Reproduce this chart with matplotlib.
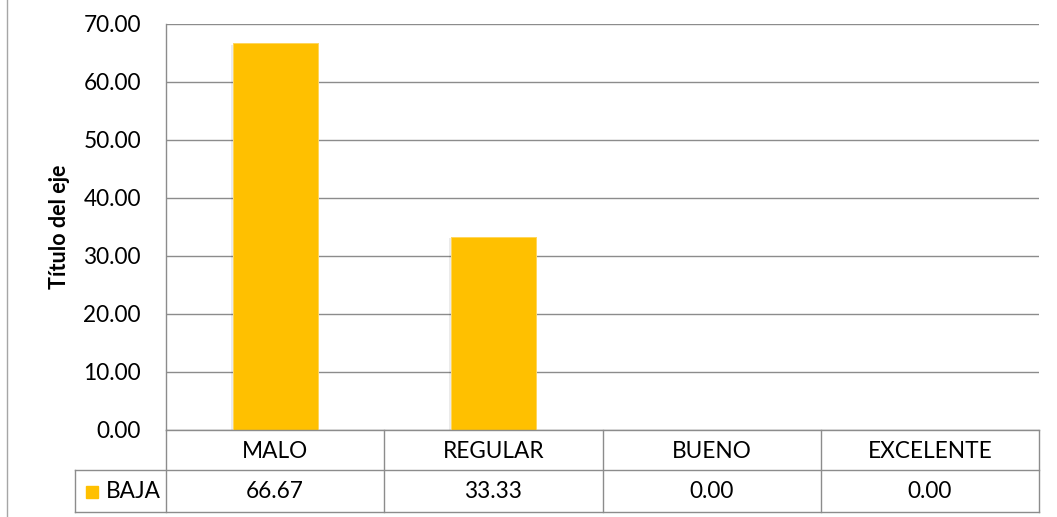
import matplotlib
matplotlib.use("Agg")
import matplotlib.pyplot as plt
import matplotlib.transforms as mtransforms
from matplotlib.lines import Line2D
from matplotlib.patches import Rectangle
import matplotlib.patheffects as pe

categories = ["MALO", "REGULAR", "BUENO", "EXCELENTE"]
series_name = "BAJA"
values = [66.67, 33.33, 0.00, 0.00]
yticks = [0, 10, 20, 30, 40, 50, 60, 70]
y_title = "Título del eje"

W, H = 1057, 517
plt.rcParams['font.family'] = ['Lato', 'DejaVu Sans']
fig = plt.figure(figsize=(W / 100, H / 100), dpi=100)

def fx(px):
    return px / W

def fy(py):
    return 1 - py / H

FS = 16.3
L, R, T, B = 166, 1039, 24, 430
ax = fig.add_axes([fx(L), fy(B), fx(R) - fx(L), fy(T) - fy(B)])

bar_color = "#FFC000"
grid_color = "#8C8C8C"
xs = list(range(len(categories)))
bars = ax.bar(xs, values, width=0.39, color=bar_color, edgecolor="#FFD966", linewidth=0.6, zorder=3)
for b in bars:
    b.set_path_effects([pe.withSimplePatchShadow(offset=(-1, -1), shadow_rgbFace="#000000", alpha=0.08), pe.Normal()])

ax.set_xlim(-0.5, len(categories) - 0.5)
ax.set_ylim(0, 70)
ax.set_yticks(yticks)
ax.set_yticklabels([f"{v:.2f}" for v in yticks], fontsize=FS, color="#000000")
ax.tick_params(axis="y", length=0, pad=18)
ax.set_xticks([])
ax.yaxis.grid(True, color=grid_color, linewidth=1.0, zorder=0)
ax.set_axisbelow(True)
for s in ["top", "right", "bottom"]:
    ax.spines[s].set_visible(False)
ax.spines["left"].set_color(grid_color)
ax.spines["left"].set_linewidth(1.0)

fig.text(fx(59), fy(227), y_title, rotation=90, ha="center", va="center",
         fontsize=15.5, fontweight="bold", color="#000000")

# Left frame line
fig.add_artist(Line2D([fx(7), fx(7)], [0, 1], color="#A6A6A6", linewidth=1.0))

# Data table
row1_top, row2_top, row2_bot = 430, 470, 512
leg_left = 75

def hline(x0, x1, y):
    fig.add_artist(Line2D([fx(x0), fx(x1)], [fy(y), fy(y)], color=grid_color, linewidth=1.0))

def vline(x, y0, y1):
    fig.add_artist(Line2D([fx(x), fx(x)], [fy(y0), fy(y1)], color=grid_color, linewidth=1.0))

hline(L, R, row1_top)
hline(leg_left, R, row2_top)
hline(leg_left, R, row2_bot)
vline(leg_left, row2_top, row2_bot)
vline(L, row1_top, row2_bot)
vline(R, row1_top, row2_bot)
for i in range(1, len(categories)):
    xpix = ax.transData.transform((i - 0.5, 0))[0]
    fig.add_artist(Line2D([xpix / W, xpix / W], [fy(row1_top), fy(row2_bot)],
                          color=grid_color, linewidth=1.0))

trans = mtransforms.blended_transform_factory(ax.transData, fig.transFigure)
for i, (c, v) in enumerate(zip(categories, values)):
    fig.text(i, fy((row1_top + row2_top) / 2 + 1), c, transform=trans, ha="center", va="center", fontsize=FS)
    fig.text(i, fy((row2_top + row2_bot) / 2), f"{v:.2f}", transform=trans, ha="center", va="center", fontsize=FS)

fig.add_artist(Rectangle((fx(86), fy(498)), fx(98) - fx(86), fy(486) - fy(498), color=bar_color))
fig.text(fx(106), fy(491), series_name, ha="left", va="center", fontsize=FS)

fig.savefig("out.png", dpi=100)
